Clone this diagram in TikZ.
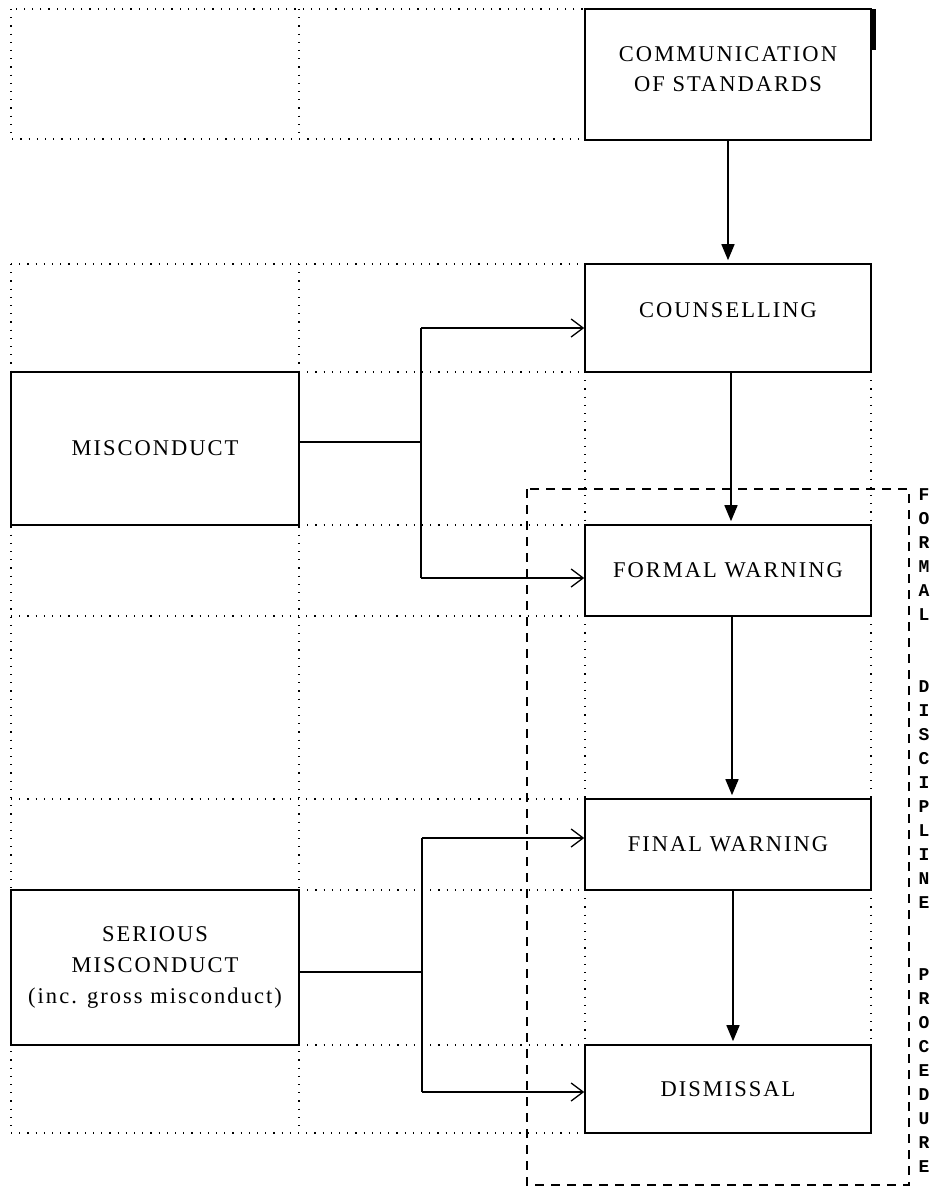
\documentclass[tikz,border=0pt]{standalone}
\usepackage{fontspec}
\setmainfont{Liberation Serif}
\newfontfamily\boxfont{Liberation Serif}[LetterSpace=9]
\newfontfamily\vfont{Liberation Mono}
\usetikzlibrary{arrows.meta}
\begin{document}
\begin{tikzpicture}[x=1pt,y=-1pt,
  box/.style={draw, line width=1.6pt, inner sep=0pt, align=center,
    font=\boxfont\fontsize{22.5}{31}\selectfont},
  lbl/.style={inner sep=0pt, align=center, font=\boxfont\fontsize{22.5}{30}\selectfont},
  vtext/.style={inner sep=0pt, align=center, font=\vfont\bfseries\fontsize{18}{24}\selectfont},
  gridline/.style={line width=1.2pt, dash pattern=on 1.2pt off 7pt},
  frame/.style={line width=1.5pt, dash pattern=on 9pt off 7pt},
  link/.style={line width=1.5pt},
  solidarrow/.style={link, -{Triangle[length=16pt,width=13pt]}, shorten >=3pt},
  openarrow/.style={link, -{Straight Barb[length=12pt,width=18pt,line width=1.3pt]}},
]
\useasboundingbox (0,0) rectangle (941,1188);

% dotted grid
\draw[gridline] (11,9) rectangle (585,139);
\draw[gridline] (299,9) -- (299,139);
\draw[gridline] (11,264) -- (585,264);
\draw[gridline] (11,264) -- (11,1133);
\draw[gridline] (299,264) -- (299,1133);
\draw[gridline] (11,1133) -- (585,1133);
\draw[gridline] (299,372) -- (585,372);
\draw[gridline] (299,525) -- (585,525);
\draw[gridline] (11,616) -- (585,616);
\draw[gridline] (11,799) -- (585,799);
\draw[gridline] (299,890) -- (585,890);
\draw[gridline] (299,1045) -- (585,1045);
\draw[gridline] (585,372) -- (585,525);
\draw[gridline] (871,372) -- (871,525);
\draw[gridline] (585,616) -- (585,799);
\draw[gridline] (871,616) -- (871,799);
\draw[gridline] (585,890) -- (585,1045);
\draw[gridline] (871,890) -- (871,1045);

% dashed frame
\draw[frame] (527,489) rectangle (909,1185);

% boxes
\node[box, minimum width=286pt, minimum height=131pt] (comm) at (728,74.5) {};
\node[lbl] (commt) at (728,69) {COMMUNICATION\\OF STANDARDS};
\fill (871,9) rectangle (876,50);
\node[box, minimum width=286pt, minimum height=108pt] (couns) at (728,318) {};
\node[lbl] (counst) at (728,310) {COUNSELLING};
\node[box, minimum width=288pt, minimum height=153pt] (mis) at (155,448.5) {MISCONDUCT};
\node[box, minimum width=286pt, minimum height=91pt] (fw) at (728,570.5) {FORMAL WARNING};
\node[box, minimum width=286pt, minimum height=91pt] (fin) at (728,844.5) {FINAL WARNING};
\node[box, minimum width=288pt, minimum height=155pt] (ser) at (155,967.5) {SERIOUS\\MISCONDUCT\\(inc. gross misconduct)};
\node[box, minimum width=286pt, minimum height=88pt] (dis) at (728,1089) {DISMISSAL};

% vertical label
\node[vtext] (fdp) at (924,831) {F\\O\\R\\M\\A\\L\\\mbox{}\\\mbox{}\\D\\I\\S\\C\\I\\P\\L\\I\\N\\E\\\mbox{}\\\mbox{}\\P\\R\\O\\C\\E\\D\\U\\R\\E};

% vertical arrows
\draw[solidarrow] (comm.south) -- (couns.north);
\draw[solidarrow] ([xshift=3pt]couns.south) -- ([xshift=3pt]fw.north);
\draw[solidarrow] ([xshift=4pt]fw.south) -- ([xshift=4pt]fin.north);
\draw[solidarrow] ([xshift=5pt]fin.south) -- ([xshift=5pt]dis.north);

% misconduct branch
\coordinate (mb) at (421,442);
\coordinate (ma) at (421,328);
\coordinate (mc) at (421,578);
\draw[link] (mb -| mis.east) -- (mb);
\draw[link] (ma) -- (mc);
\draw[openarrow] (ma) -- (ma -| couns.west);
\draw[openarrow] (mc) -- (mc -| fw.west);

% serious misconduct branch
\coordinate (sb) at (422,972);
\coordinate (sa) at (422,838);
\coordinate (sc) at (422,1092);
\draw[link] (sb -| ser.east) -- (sb);
\draw[link] (sa) -- (sc);
\draw[openarrow] (sa) -- (sa -| fin.west);
\draw[openarrow] (sc) -- (sc -| dis.west);
\end{tikzpicture}
\end{document}
